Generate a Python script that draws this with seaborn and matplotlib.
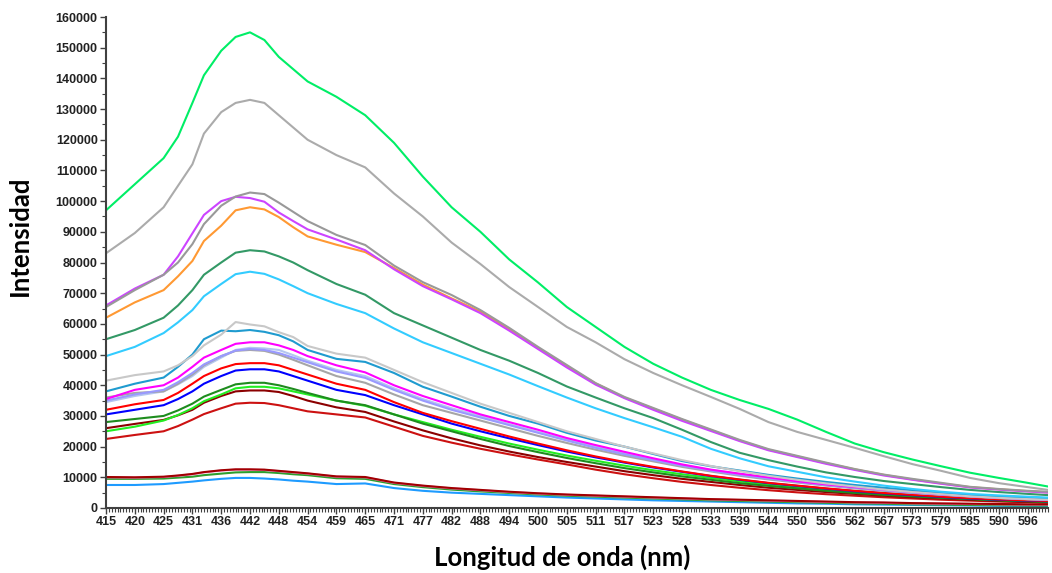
import numpy as np
import pandas as pd
import matplotlib
matplotlib.use("Agg")
import matplotlib.pyplot as plt
import seaborn as sns
from matplotlib.ticker import MultipleLocator

# ---------------- data ----------------
wavelength = [415, 420, 425, 428, 431, 433, 436, 439, 442, 445, 448, 451, 454, 459, 465, 471, 477,
              482, 488, 494, 500, 505, 511, 517, 523, 528, 533, 539, 544, 550, 556, 562, 567, 573,
              579, 585, 590, 596, 600]
tick_labels = ["415", "420", "425", "431", "436", "442", "448", "454", "459", "465", "471",
               "477", "482", "488", "494", "500", "505", "511", "517", "523", "528", "533",
               "539", "544", "550", "556", "562", "567", "573", "579", "585", "590", "596"]

s01 = [97000, 105500, 114000, 121000, 132000, 141000, 149000, 153500, 155000, 152500, 147000, 143000,
       139000, 134000, 128000, 119000, 108000, 98000, 90000, 81000, 73500, 65500, 59000, 52500, 47000,
       42500, 38500, 35200, 32300, 28800, 24800, 21000, 18200, 15800, 13600, 11500, 9800, 8200, 7000]
s02 = [83000, 89600, 98000, 105000, 112000, 122000, 129000, 132000, 133000, 132000, 128000, 124000,
       120000, 115000, 111000, 102500, 95000, 86500, 79500, 72000, 65500, 59000, 54000, 48500, 44000,
       40000, 36200, 32300, 28000, 24800, 22200, 19600, 16900, 14300, 12100, 9800, 8100, 6800, 5900]
s03 = [65500, 71000, 76000, 80000, 86000, 92500, 98500, 101500, 102800, 102300, 99500, 96500, 93500,
       89000, 85700, 79000, 73600, 69400, 64500, 58700, 52500, 46600, 40700, 36200, 32600, 29000, 25600,
       22200, 19200, 17000, 14800, 12700, 10900, 9500, 8200, 6900, 6200, 5600, 5300]
s04 = [66000, 71500, 76000, 82000, 89500, 95500, 100000, 101400, 101000, 99800, 96300, 93500, 90800,
       87500, 84000, 77800, 72300, 68000, 63500, 57800, 51800, 45800, 40200, 35800, 32000, 28400, 25100,
       21800, 18800, 16600, 14400, 12400, 10600, 9200, 7900, 6700, 6000, 5400, 5000]
s05 = [62000, 67000, 71000, 75500, 80500, 87000, 92000, 97000, 98000, 97300, 94800, 91500, 88500,
       85800, 83400, 78200, 72800, 68300, 64000, 58200, 52200, 46200, 40600, 36000, 32400, 28800, 25400,
       22000, 19000, 16800, 14600, 12600, 10800, 9300, 8000, 6800, 6100, 5500, 5100]
s06 = [55000, 58000, 62000, 66000, 71000, 76000, 80000, 83200, 84000, 83600, 82000, 80000, 77500,
       73000, 69500, 63500, 59500, 55500, 51500, 48000, 44000, 39600, 36000, 32500, 29300, 25500, 21500,
       18000, 15600, 13500, 11600, 10100, 8800, 7800, 6800, 5900, 5200, 4600, 4200]
s07 = [49500, 52500, 57000, 60500, 64500, 69000, 73000, 76200, 77000, 76300, 74500, 72300, 70000,
       66500, 63500, 58500, 54000, 50500, 47000, 43500, 39700, 36000, 32500, 29300, 26300, 23200, 19300,
       16200, 13600, 11800, 10000, 8600, 7300, 6200, 5300, 4600, 4100, 3700, 3400]
s08 = [41500, 43300, 44500, 46500, 49500, 53000, 56500, 60600, 59800, 59200, 57300, 55700, 52800,
       50300, 49000, 45000, 41000, 37500, 34000, 31000, 28000, 25000, 22500, 20000, 17800, 15600, 13700,
       12000, 10500, 9200, 8000, 7000, 6000, 5200, 4500, 3800, 3300, 2900, 2700]
s09 = [38000, 40500, 42500, 46000, 50000, 55000, 57800, 57600, 58000, 57400, 56300, 54300, 51500,
       48600, 47600, 44000, 39500, 36300, 33000, 30000, 27500, 24500, 22000, 20000, 17600, 15300, 13600,
       12200, 10800, 9600, 8500, 7500, 6600, 5800, 5000, 4300, 3800, 3400, 3200]
s10 = [35500, 38500, 40000, 42500, 46000, 49000, 51500, 53500, 54000, 54000, 53000, 51500, 49500,
       46500, 44200, 40000, 36500, 33500, 30500, 28000, 25500, 22800, 20500, 18300, 16200, 14200, 12500,
       11200, 10000, 8700, 7700, 6800, 6000, 5200, 4500, 3900, 3400, 3000, 2800]
s11 = [35000, 37000, 38500, 41000, 44000, 46800, 49500, 51300, 51800, 51500, 50500, 49000, 47500,
       44500, 42400, 38500, 35000, 32000, 29500, 27000, 24500, 22000, 19600, 17500, 15600, 13800, 12200,
       10800, 9600, 8500, 7500, 6600, 5800, 5000, 4400, 3800, 3300, 2900, 2700]
s12 = [36000, 37500, 38000, 40500, 43500, 46500, 49500, 51200, 51500, 51200, 50000, 48300, 46500,
       43000, 40800, 37000, 33500, 31000, 28500, 26000, 23500, 21200, 19000, 17000, 15200, 13400, 11900,
       10500, 9300, 8300, 7300, 6400, 5600, 4900, 4300, 3700, 3200, 2800, 2600]
s13 = [34500, 36500, 38000, 40300, 43000, 46000, 49000, 51500, 52200, 52000, 51500, 49800, 48000,
       45000, 43000, 39000, 35500, 32500, 30000, 27300, 24800, 22300, 20000, 17800, 15800, 14000, 12400,
       11000, 9800, 8600, 7600, 6700, 5900, 5100, 4500, 3900, 3400, 3000, 2800]
s14 = [32000, 33800, 35200, 37500, 40500, 43000, 45500, 46900, 47200, 47200, 46500, 45000, 43500,
       40500, 38500, 34500, 31000, 28300, 25800, 23300, 21000, 18800, 16800, 15000, 13400, 11900, 10500,
       9300, 8200, 7300, 6400, 5600, 4900, 4300, 3700, 3200, 2800, 2500, 2300]
s15 = [30500, 32000, 33500, 35500, 38000, 40500, 43000, 44800, 45200, 45200, 44500, 43000, 41500,
       38500, 36800, 33500, 30500, 27500, 25000, 22700, 20500, 18400, 16500, 14800, 13200, 11800, 10400,
       9200, 8100, 7200, 6300, 5500, 4800, 4200, 3600, 3100, 2700, 2400, 2200]
s16 = [28000, 29000, 30000, 31800, 34000, 36300, 38500, 40300, 40800, 40800, 40000, 38800, 37500,
       35000, 33500, 30500, 27500, 25000, 22500, 20200, 18200, 16300, 14600, 13000, 11600, 10300, 9200,
       8100, 7200, 6400, 5600, 4900, 4300, 3800, 3300, 2900, 2500, 2200, 2000]
s17 = [25000, 26500, 28500, 30300, 32500, 34800, 37000, 39000, 39500, 39500, 39000, 38000, 37000,
       35000, 33300, 30500, 28000, 25500, 23200, 21000, 19000, 17100, 15400, 13800, 12300, 11000, 9800,
       8700, 7700, 6800, 6000, 5300, 4600, 4000, 3500, 3000, 2600, 2300, 2100]
s18 = [26000, 27400, 28700, 30200, 32000, 34300, 36500, 38000, 38300, 38300, 37800, 36500, 35000,
       32800, 31300, 28200, 25300, 22700, 20400, 18400, 16600, 15000, 13500, 12000, 10700, 9500, 8500,
       7500, 6600, 5900, 5200, 4600, 4000, 3500, 3100, 2700, 2300, 2000, 1800]
s19 = [22500, 23800, 25000, 26700, 28800, 30600, 32500, 34000, 34300, 34200, 33500, 32500, 31500,
       30500, 29500, 26500, 23500, 21300, 19300, 17500, 15800, 14200, 12500, 11000, 9700, 8500, 7500,
       6600, 5800, 5100, 4500, 4000, 3500, 3100, 2700, 2400, 2100, 1900, 1700]
s20 = [10100, 10000, 10200, 10600, 11100, 11700, 12300, 12600, 12600, 12500, 12100, 11700, 11300,
       10300, 10100, 8300, 7300, 6500, 5900, 5300, 4800, 4400, 4100, 3800, 3500, 3200, 2900, 2700, 2500,
       2300, 2100, 1900, 1800, 1600, 1500, 1400, 1300, 1200, 1200]
s21 = [10000, 9900, 10100, 10500, 11000, 11600, 12200, 12500, 12500, 12400, 12000, 11600, 11200,
       10200, 10000, 8200, 7200, 6400, 5800, 5200, 4700, 4300, 4000, 3700, 3400, 3100, 2800, 2600, 2400,
       2200, 2000, 1800, 1700, 1500, 1400, 1300, 1200, 1100, 1100]
s22 = [9500, 9500, 9600, 9900, 10200, 10700, 11200, 11600, 11700, 11700, 11400, 11000, 10700,
       9700, 9500, 7800, 6800, 6000, 5400, 4900, 4400, 4000, 3700, 3400, 3100, 2800, 2500, 2300, 2100,
       1900, 1700, 1500, 1400, 1200, 1100, 1000, 900, 800, 800]
s23 = [7500, 7500, 7800, 8200, 8600, 9000, 9500, 9800, 9800, 9600, 9300, 8900, 8600,
       7800, 8000, 6500, 5600, 5000, 4600, 4200, 3800, 3400, 3100, 2800, 2500, 2300, 2100, 1900, 1700,
       1500, 1400, 1200, 1100, 1000, 900, 800, 700, 600, 600]

series = [s23, s22, s21, s20, s19, s18, s17, s16, s15, s14, s13, s12, s11, s10, s09, s08,
          s07, s06, s05, s04, s03, s02, s01]
colors = ["#1E9BFF", "#2E9E2E", "#FF77CC", "#A00000", "#CC1111", "#8B0000", "#22EE22", "#1E8C1E",
          "#0000FF", "#FF0000", "#B4C6F0", "#A6A6A6", "#9999FF", "#FF00FF", "#1F9BCF", "#C8C8C8",
          "#33CCFF", "#339966", "#FF9933", "#CC44FF", "#999999", "#ABABAB", "#00EE66"]
names = [f"S{i:02d}" for i in range(len(series))]

# category positions of the wavelengths (category axis, labels equally spaced)
label_wl = np.array([float(t) for t in tick_labels])
idx = np.arange(len(label_wl))
step = (label_wl[-1] - label_wl[0]) / (len(label_wl) - 1)
def to_pos(w):
    if w <= label_wl[-1]:
        return float(np.interp(w, label_wl, idx))
    return idx[-1] + (w - label_wl[-1]) / step
positions = [to_pos(w) for w in wavelength]

rows = []
for n, vals in zip(names, series):
    for p, v in zip(positions, vals):
        rows.append({"series": n, "pos": p, "intensity": v})
df = pd.DataFrame(rows)
palette = dict(zip(names, colors))

# ---------------- plot ----------------
sns.set_theme(style="white")
fig = plt.figure(figsize=(10.52, 5.73), dpi=100)
ax = fig.add_axes([106 / 1052, 65 / 573, (1048 - 106) / 1052, (508 - 17) / 573])

sns.lineplot(data=df, x="pos", y="intensity", hue="series", palette=palette,
             hue_order=names, sort=False, estimator=None, linewidth=1.5,
             legend=False, ax=ax)

ax.set_xlim(0, positions[-1])
ax.set_ylim(0, 160000)
ax.set_yticks(np.arange(0, 160001, 10000))
ax.set_yticklabels([f"{v}" for v in range(0, 160001, 10000)])
ax.yaxis.set_minor_locator(MultipleLocator(5000))
ax.set_xticks(idx)
ax.set_xticklabels(tick_labels)
ax.xaxis.set_minor_locator(MultipleLocator(0.1))

for s in ["top", "right"]:
    ax.spines[s].set_visible(False)
for s in ["left", "bottom"]:
    ax.spines[s].set_color("#404040")
    ax.spines[s].set_linewidth(1.5)

ax.tick_params(axis="both", which="major", direction="out", length=4, width=1,
               color="#404040", labelsize=9, labelcolor="#222222", pad=2,
               left=True, bottom=True)
ax.tick_params(axis="both", which="minor", direction="out", length=3, width=0.8,
               color="#404040", left=True, bottom=True)
for lab in ax.get_xticklabels() + ax.get_yticklabels():
    lab.set_fontfamily("Liberation Sans")
    lab.set_fontweight("bold")

ax.set_xlabel("Longitud de onda (nm)", fontfamily="Lato", fontweight="bold",
              fontsize=18.5, color="black", va="center")
ax.xaxis.set_label_coords((562 - 106) / 942, (508 - 557) / 491)
ax.set_ylabel("Intensidad", fontfamily="Lato", fontweight="bold",
              fontsize=18.5, color="black", va="center")
ax.yaxis.set_label_coords((20 - 106) / 942, (508 - 236) / 491)

fig.savefig("out.png", dpi=100)
